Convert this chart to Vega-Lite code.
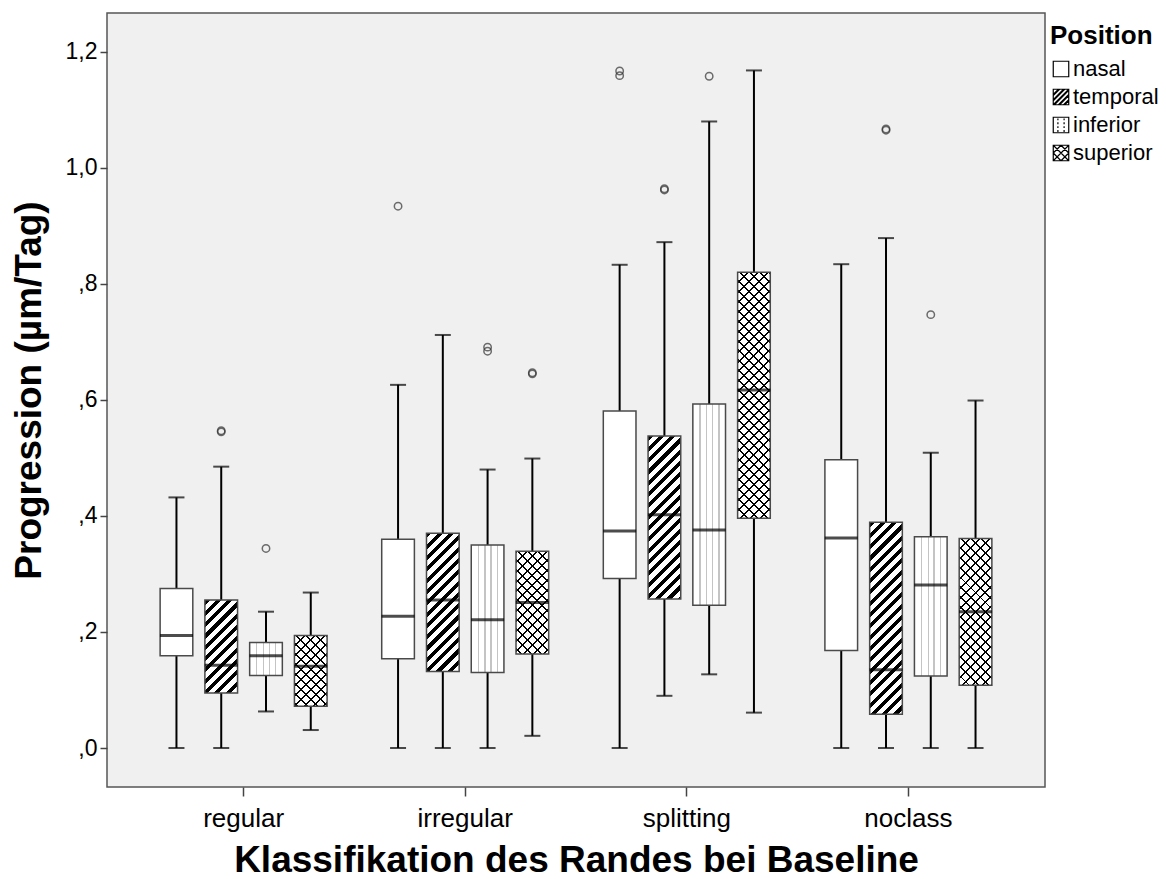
{
  "$schema": "https://vega.github.io/schema/vega-lite/v6.json",
  "autosize": "none",
  "padding": {"left": 107, "top": 13, "right": 121, "bottom": 92},
  "width": 938,
  "height": 774,
  "background": "white",
  "config": {
    "font": "Liberation Sans",
    "view": {"fill": "#f0f0f0", "stroke": "#555555", "strokeWidth": 1.5},
    "axisY": {
      "titleFontSize": 37, "titleFontWeight": "bold", "titleColor": "black",
      "labelFontSize": 23, "labelColor": "black", "labelPadding": 3,
      "tickSize": 7, "tickColor": "#444444", "tickWidth": 1.5,
      "domain": false, "grid": false
    },
    "axisX": {
      "titleFontSize": 37, "titleFontWeight": "bold", "titleColor": "black",
      "labelFontSize": 26, "labelColor": "black", "labelPadding": 9, "labelAngle": 0,
      "tickSize": 9, "tickColor": "#444444", "tickWidth": 1.5,
      "domain": false, "grid": false
    }
  },
  "params": [
    {"name": "stT", "value": [
      {"offset": 0, "color": "#000"}, {"offset": 0.01875, "color": "#000"}, {"offset": 0.01875, "color": "rgba(0,0,0,0)"}, {"offset": 0.041667, "color": "rgba(0,0,0,0)"},
      {"offset": 0.041667, "color": "#000"}, {"offset": 0.060417, "color": "#000"}, {"offset": 0.060417, "color": "rgba(0,0,0,0)"}, {"offset": 0.083333, "color": "rgba(0,0,0,0)"},
      {"offset": 0.083333, "color": "#000"}, {"offset": 0.102083, "color": "#000"}, {"offset": 0.102083, "color": "rgba(0,0,0,0)"}, {"offset": 0.125, "color": "rgba(0,0,0,0)"},
      {"offset": 0.125, "color": "#000"}, {"offset": 0.14375, "color": "#000"}, {"offset": 0.14375, "color": "rgba(0,0,0,0)"}, {"offset": 0.166667, "color": "rgba(0,0,0,0)"},
      {"offset": 0.166667, "color": "#000"}, {"offset": 0.185417, "color": "#000"}, {"offset": 0.185417, "color": "rgba(0,0,0,0)"}, {"offset": 0.208333, "color": "rgba(0,0,0,0)"},
      {"offset": 0.208333, "color": "#000"}, {"offset": 0.227083, "color": "#000"}, {"offset": 0.227083, "color": "rgba(0,0,0,0)"}, {"offset": 0.25, "color": "rgba(0,0,0,0)"},
      {"offset": 0.25, "color": "#000"}, {"offset": 0.26875, "color": "#000"}, {"offset": 0.26875, "color": "rgba(0,0,0,0)"}, {"offset": 0.291667, "color": "rgba(0,0,0,0)"},
      {"offset": 0.291667, "color": "#000"}, {"offset": 0.310417, "color": "#000"}, {"offset": 0.310417, "color": "rgba(0,0,0,0)"}, {"offset": 0.333333, "color": "rgba(0,0,0,0)"},
      {"offset": 0.333333, "color": "#000"}, {"offset": 0.352083, "color": "#000"}, {"offset": 0.352083, "color": "rgba(0,0,0,0)"}, {"offset": 0.375, "color": "rgba(0,0,0,0)"},
      {"offset": 0.375, "color": "#000"}, {"offset": 0.39375, "color": "#000"}, {"offset": 0.39375, "color": "rgba(0,0,0,0)"}, {"offset": 0.416667, "color": "rgba(0,0,0,0)"},
      {"offset": 0.416667, "color": "#000"}, {"offset": 0.435417, "color": "#000"}, {"offset": 0.435417, "color": "rgba(0,0,0,0)"}, {"offset": 0.458333, "color": "rgba(0,0,0,0)"},
      {"offset": 0.458333, "color": "#000"}, {"offset": 0.477083, "color": "#000"}, {"offset": 0.477083, "color": "rgba(0,0,0,0)"}, {"offset": 0.5, "color": "rgba(0,0,0,0)"},
      {"offset": 0.5, "color": "#000"}, {"offset": 0.51875, "color": "#000"}, {"offset": 0.51875, "color": "rgba(0,0,0,0)"}, {"offset": 0.541667, "color": "rgba(0,0,0,0)"},
      {"offset": 0.541667, "color": "#000"}, {"offset": 0.560417, "color": "#000"}, {"offset": 0.560417, "color": "rgba(0,0,0,0)"}, {"offset": 0.583333, "color": "rgba(0,0,0,0)"},
      {"offset": 0.583333, "color": "#000"}, {"offset": 0.602083, "color": "#000"}, {"offset": 0.602083, "color": "rgba(0,0,0,0)"}, {"offset": 0.625, "color": "rgba(0,0,0,0)"},
      {"offset": 0.625, "color": "#000"}, {"offset": 0.64375, "color": "#000"}, {"offset": 0.64375, "color": "rgba(0,0,0,0)"}, {"offset": 0.666667, "color": "rgba(0,0,0,0)"},
      {"offset": 0.666667, "color": "#000"}, {"offset": 0.685417, "color": "#000"}, {"offset": 0.685417, "color": "rgba(0,0,0,0)"}, {"offset": 0.708333, "color": "rgba(0,0,0,0)"},
      {"offset": 0.708333, "color": "#000"}, {"offset": 0.727083, "color": "#000"}, {"offset": 0.727083, "color": "rgba(0,0,0,0)"}, {"offset": 0.75, "color": "rgba(0,0,0,0)"},
      {"offset": 0.75, "color": "#000"}, {"offset": 0.76875, "color": "#000"}, {"offset": 0.76875, "color": "rgba(0,0,0,0)"}, {"offset": 0.791667, "color": "rgba(0,0,0,0)"},
      {"offset": 0.791667, "color": "#000"}, {"offset": 0.810417, "color": "#000"}, {"offset": 0.810417, "color": "rgba(0,0,0,0)"}, {"offset": 0.833333, "color": "rgba(0,0,0,0)"},
      {"offset": 0.833333, "color": "#000"}, {"offset": 0.852083, "color": "#000"}, {"offset": 0.852083, "color": "rgba(0,0,0,0)"}, {"offset": 0.875, "color": "rgba(0,0,0,0)"},
      {"offset": 0.875, "color": "#000"}, {"offset": 0.89375, "color": "#000"}, {"offset": 0.89375, "color": "rgba(0,0,0,0)"}, {"offset": 0.916667, "color": "rgba(0,0,0,0)"},
      {"offset": 0.916667, "color": "#000"}, {"offset": 0.935417, "color": "#000"}, {"offset": 0.935417, "color": "rgba(0,0,0,0)"}, {"offset": 0.958333, "color": "rgba(0,0,0,0)"},
      {"offset": 0.958333, "color": "#000"}, {"offset": 0.977083, "color": "#000"}, {"offset": 0.977083, "color": "rgba(0,0,0,0)"}, {"offset": 1, "color": "rgba(0,0,0,0)"}
    ]},
    {"name": "stB", "value": [
      {"offset": 0, "color": "#000"}, {"offset": 0.006667, "color": "#000"}, {"offset": 0.006667, "color": "rgba(0,0,0,0)"}, {"offset": 0.033333, "color": "rgba(0,0,0,0)"},
      {"offset": 0.033333, "color": "#000"}, {"offset": 0.04, "color": "#000"}, {"offset": 0.04, "color": "rgba(0,0,0,0)"}, {"offset": 0.066667, "color": "rgba(0,0,0,0)"},
      {"offset": 0.066667, "color": "#000"}, {"offset": 0.073333, "color": "#000"}, {"offset": 0.073333, "color": "rgba(0,0,0,0)"}, {"offset": 0.1, "color": "rgba(0,0,0,0)"},
      {"offset": 0.1, "color": "#000"}, {"offset": 0.106667, "color": "#000"}, {"offset": 0.106667, "color": "rgba(0,0,0,0)"}, {"offset": 0.133333, "color": "rgba(0,0,0,0)"},
      {"offset": 0.133333, "color": "#000"}, {"offset": 0.14, "color": "#000"}, {"offset": 0.14, "color": "rgba(0,0,0,0)"}, {"offset": 0.166667, "color": "rgba(0,0,0,0)"},
      {"offset": 0.166667, "color": "#000"}, {"offset": 0.173333, "color": "#000"}, {"offset": 0.173333, "color": "rgba(0,0,0,0)"}, {"offset": 0.2, "color": "rgba(0,0,0,0)"},
      {"offset": 0.2, "color": "#000"}, {"offset": 0.206667, "color": "#000"}, {"offset": 0.206667, "color": "rgba(0,0,0,0)"}, {"offset": 0.233333, "color": "rgba(0,0,0,0)"},
      {"offset": 0.233333, "color": "#000"}, {"offset": 0.24, "color": "#000"}, {"offset": 0.24, "color": "rgba(0,0,0,0)"}, {"offset": 0.266667, "color": "rgba(0,0,0,0)"},
      {"offset": 0.266667, "color": "#000"}, {"offset": 0.273333, "color": "#000"}, {"offset": 0.273333, "color": "rgba(0,0,0,0)"}, {"offset": 0.3, "color": "rgba(0,0,0,0)"},
      {"offset": 0.3, "color": "#000"}, {"offset": 0.306667, "color": "#000"}, {"offset": 0.306667, "color": "rgba(0,0,0,0)"}, {"offset": 0.333333, "color": "rgba(0,0,0,0)"},
      {"offset": 0.333333, "color": "#000"}, {"offset": 0.34, "color": "#000"}, {"offset": 0.34, "color": "rgba(0,0,0,0)"}, {"offset": 0.366667, "color": "rgba(0,0,0,0)"},
      {"offset": 0.366667, "color": "#000"}, {"offset": 0.373333, "color": "#000"}, {"offset": 0.373333, "color": "rgba(0,0,0,0)"}, {"offset": 0.4, "color": "rgba(0,0,0,0)"},
      {"offset": 0.4, "color": "#000"}, {"offset": 0.406667, "color": "#000"}, {"offset": 0.406667, "color": "rgba(0,0,0,0)"}, {"offset": 0.433333, "color": "rgba(0,0,0,0)"},
      {"offset": 0.433333, "color": "#000"}, {"offset": 0.44, "color": "#000"}, {"offset": 0.44, "color": "rgba(0,0,0,0)"}, {"offset": 0.466667, "color": "rgba(0,0,0,0)"},
      {"offset": 0.466667, "color": "#000"}, {"offset": 0.473333, "color": "#000"}, {"offset": 0.473333, "color": "rgba(0,0,0,0)"}, {"offset": 0.5, "color": "rgba(0,0,0,0)"},
      {"offset": 0.5, "color": "#000"}, {"offset": 0.506667, "color": "#000"}, {"offset": 0.506667, "color": "rgba(0,0,0,0)"}, {"offset": 0.533333, "color": "rgba(0,0,0,0)"},
      {"offset": 0.533333, "color": "#000"}, {"offset": 0.54, "color": "#000"}, {"offset": 0.54, "color": "rgba(0,0,0,0)"}, {"offset": 0.566667, "color": "rgba(0,0,0,0)"},
      {"offset": 0.566667, "color": "#000"}, {"offset": 0.573333, "color": "#000"}, {"offset": 0.573333, "color": "rgba(0,0,0,0)"}, {"offset": 0.6, "color": "rgba(0,0,0,0)"},
      {"offset": 0.6, "color": "#000"}, {"offset": 0.606667, "color": "#000"}, {"offset": 0.606667, "color": "rgba(0,0,0,0)"}, {"offset": 0.633333, "color": "rgba(0,0,0,0)"},
      {"offset": 0.633333, "color": "#000"}, {"offset": 0.64, "color": "#000"}, {"offset": 0.64, "color": "rgba(0,0,0,0)"}, {"offset": 0.666667, "color": "rgba(0,0,0,0)"},
      {"offset": 0.666667, "color": "#000"}, {"offset": 0.673333, "color": "#000"}, {"offset": 0.673333, "color": "rgba(0,0,0,0)"}, {"offset": 0.7, "color": "rgba(0,0,0,0)"},
      {"offset": 0.7, "color": "#000"}, {"offset": 0.706667, "color": "#000"}, {"offset": 0.706667, "color": "rgba(0,0,0,0)"}, {"offset": 0.733333, "color": "rgba(0,0,0,0)"},
      {"offset": 0.733333, "color": "#000"}, {"offset": 0.74, "color": "#000"}, {"offset": 0.74, "color": "rgba(0,0,0,0)"}, {"offset": 0.766667, "color": "rgba(0,0,0,0)"},
      {"offset": 0.766667, "color": "#000"}, {"offset": 0.773333, "color": "#000"}, {"offset": 0.773333, "color": "rgba(0,0,0,0)"}, {"offset": 0.8, "color": "rgba(0,0,0,0)"},
      {"offset": 0.8, "color": "#000"}, {"offset": 0.806667, "color": "#000"}, {"offset": 0.806667, "color": "rgba(0,0,0,0)"}, {"offset": 0.833333, "color": "rgba(0,0,0,0)"},
      {"offset": 0.833333, "color": "#000"}, {"offset": 0.84, "color": "#000"}, {"offset": 0.84, "color": "rgba(0,0,0,0)"}, {"offset": 0.866667, "color": "rgba(0,0,0,0)"},
      {"offset": 0.866667, "color": "#000"}, {"offset": 0.873333, "color": "#000"}, {"offset": 0.873333, "color": "rgba(0,0,0,0)"}, {"offset": 0.9, "color": "rgba(0,0,0,0)"},
      {"offset": 0.9, "color": "#000"}, {"offset": 0.906667, "color": "#000"}, {"offset": 0.906667, "color": "rgba(0,0,0,0)"}, {"offset": 0.933333, "color": "rgba(0,0,0,0)"},
      {"offset": 0.933333, "color": "#000"}, {"offset": 0.94, "color": "#000"}, {"offset": 0.94, "color": "rgba(0,0,0,0)"}, {"offset": 0.966667, "color": "rgba(0,0,0,0)"},
      {"offset": 0.966667, "color": "#000"}, {"offset": 0.973333, "color": "#000"}, {"offset": 0.973333, "color": "rgba(0,0,0,0)"}, {"offset": 1, "color": "rgba(0,0,0,0)"}
    ]}
  ],
  "datasets": {
    "boxes": [
      {"g": "regular", "p": "nasal", "lo": 0, "q1": 0.159, "med": 0.194, "q3": 0.275, "hi": 0.432},
      {"g": "regular", "p": "temporal", "lo": 0, "q1": 0.095, "med": 0.1425, "q3": 0.255, "hi": 0.485},
      {"g": "regular", "p": "inferior", "lo": 0.063, "q1": 0.125, "med": 0.159, "q3": 0.182, "hi": 0.235},
      {"g": "regular", "p": "superior", "lo": 0.031, "q1": 0.072, "med": 0.141, "q3": 0.194, "hi": 0.268},
      {"g": "irregular", "p": "nasal", "lo": 0, "q1": 0.154, "med": 0.227, "q3": 0.36, "hi": 0.626},
      {"g": "irregular", "p": "temporal", "lo": 0, "q1": 0.132, "med": 0.255, "q3": 0.37, "hi": 0.712},
      {"g": "irregular", "p": "inferior", "lo": 0, "q1": 0.13, "med": 0.221, "q3": 0.35, "hi": 0.48},
      {"g": "irregular", "p": "superior", "lo": 0.021, "q1": 0.162, "med": 0.251, "q3": 0.339, "hi": 0.499},
      {"g": "splitting", "p": "nasal", "lo": 0, "q1": 0.292, "med": 0.374, "q3": 0.581, "hi": 0.833},
      {"g": "splitting", "p": "temporal", "lo": 0.09, "q1": 0.257, "med": 0.402, "q3": 0.538, "hi": 0.872},
      {"g": "splitting", "p": "inferior", "lo": 0.127, "q1": 0.246, "med": 0.376, "q3": 0.593, "hi": 1.08},
      {"g": "splitting", "p": "superior", "lo": 0.061, "q1": 0.396, "med": 0.617, "q3": 0.82, "hi": 1.168},
      {"g": "noclass", "p": "nasal", "lo": 0, "q1": 0.168, "med": 0.362, "q3": 0.497, "hi": 0.834},
      {"g": "noclass", "p": "temporal", "lo": 0, "q1": 0.058, "med": 0.135, "q3": 0.389, "hi": 0.879},
      {"g": "noclass", "p": "inferior", "lo": 0, "q1": 0.124, "med": 0.281, "q3": 0.364, "hi": 0.509},
      {"g": "noclass", "p": "superior", "lo": 0, "q1": 0.108, "med": 0.235, "q3": 0.361, "hi": 0.599}
    ],
    "outliers": [
      {"g": "regular", "p": "temporal", "v": 0.547},
      {"g": "regular", "p": "temporal", "v": 0.545},
      {"g": "regular", "p": "inferior", "v": 0.344},
      {"g": "irregular", "p": "nasal", "v": 0.934},
      {"g": "irregular", "p": "inferior", "v": 0.691},
      {"g": "irregular", "p": "inferior", "v": 0.684},
      {"g": "irregular", "p": "superior", "v": 0.647},
      {"g": "irregular", "p": "superior", "v": 0.645},
      {"g": "splitting", "p": "nasal", "v": 1.167},
      {"g": "splitting", "p": "nasal", "v": 1.159},
      {"g": "splitting", "p": "temporal", "v": 0.964},
      {"g": "splitting", "p": "temporal", "v": 0.962},
      {"g": "splitting", "p": "inferior", "v": 1.158},
      {"g": "noclass", "p": "temporal", "v": 1.067},
      {"g": "noclass", "p": "temporal", "v": 1.065},
      {"g": "noclass", "p": "inferior", "v": 0.747}
    ]
  },
  "encoding": {
    "x": {
      "field": "g", "type": "nominal",
      "sort": ["regular", "irregular", "splitting", "noclass"],
      "scale": {"paddingInner": 0, "paddingOuter": 0.1165},
      "axis": {
        "title": "Klassifikation des Randes bei Baseline",
        "titleY": 84, "titleBaseline": "alphabetic"
      }
    },
    "xOffset": {
      "field": "p", "type": "nominal",
      "sort": ["nasal", "temporal", "inferior", "superior"],
      "scale": {"paddingInner": 0.27, "paddingOuter": 0.61}
    }
  },
  "layer": [
    {
      "data": {"name": "boxes"},
      "mark": {"type": "point", "filled": false, "stroke": "black", "strokeWidth": 1.2, "size": 240, "opacity": 1},
      "encoding": {
        "y": {
          "field": "med", "type": "quantitative",
          "title": "Progression (µm/Tag)",
          "scale": {"domain": [-0.0672, 1.267], "nice": false, "zero": false},
          "axis": {
            "title": "Progression (µm/Tag)",
            "titleX": -67, "titleY": 377, "titleBaseline": "alphabetic", "titleAngle": -90, "titleAlign": "center",
            "values": [0, 0.2, 0.4, 0.6, 0.8, 1.0, 1.2],
            "labelExpr": "(datum.value >= 1 ? '1' : '') + ',' + format((datum.value % 1) * 10, '.0f')"
          }
        },
        "shape": {
          "field": "p", "type": "nominal",
          "sort": ["nasal", "temporal", "inferior", "superior"],
          "scale": {
            "domain": ["nasal", "temporal", "inferior", "superior"],
            "range": [
              "M-1,-1L1,-1L1,1L-1,1Z",
              "M-1,-1L1,-1L1,1L-1,1Z M-1,-0.33L-0.33,-1 M-1,-0.18L-0.18,-1 M-1,0.33L0.33,-1 M-1,0.48L0.48,-1 M-1,1L1,-1 M-0.85,1L1,-0.85 M-0.33,1L1,-0.33 M-0.18,1L1,-0.18 M0.33,1L1,0.33 M0.48,1L1,0.48",
              "M-1,-1L1,-1L1,1L-1,1Z M-0.4,-0.85L-0.4,-0.6 M-0.4,-0.35L-0.4,-0.1 M-0.4,0.15L-0.4,0.4 M-0.4,0.65L-0.4,0.9 M0.4,-0.85L0.4,-0.6 M0.4,-0.35L0.4,-0.1 M0.4,0.15L0.4,0.4 M0.4,0.65L0.4,0.9",
              "M-1,-1L1,-1L1,1L-1,1Z M-1,0L0,-1 M-1,1L1,-1 M0,1L1,0 M-1,0L0,1 M-1,-1L1,1 M0,-1L1,0"
            ]
          },
          "legend": {
            "title": "Position",
            "titleFontSize": 26, "titleFontWeight": "bold", "titleColor": "black", "titlePadding": 9,
            "labelFontSize": 22, "labelColor": "black", "labelOffset": 1,
            "symbolSize": 240, "symbolStrokeColor": "black", "symbolStrokeWidth": 1.2, "symbolOpacity": 1,
            "rowPadding": 6, "offset": -5, "padding": 10
          }
        }
      }
    },
    {
      "data": {"name": "boxes"},
      "mark": {"type": "rule", "color": "black", "strokeWidth": 2},
      "encoding": {
        "y": {"field": "lo", "type": "quantitative", "title": "Progression (µm/Tag)"},
        "y2": {"field": "hi"}
      }
    },
    {
      "data": {"name": "boxes"},
      "mark": {"type": "tick", "color": "black", "size": 16, "thickness": 2},
      "encoding": {"y": {"field": "lo", "type": "quantitative", "title": "Progression (µm/Tag)"}}
    },
    {
      "data": {"name": "boxes"},
      "mark": {"type": "tick", "color": "black", "size": 16, "thickness": 2},
      "encoding": {"y": {"field": "hi", "type": "quantitative", "title": "Progression (µm/Tag)"}}
    },
    {
      "data": {"name": "boxes"},
      "mark": {"type": "bar", "fill": "white", "strokeWidth": 0},
      "encoding": {"y": {"field": "q1", "type": "quantitative", "title": "Progression (µm/Tag)"}, "y2": {"field": "q3"}}
    },
    {
      "data": {"name": "boxes"},
      "transform": [{"filter": "datum.p === 'temporal'"}],
      "mark": {
        "type": "bar", "strokeWidth": 0,
        "fill": {"expr": "{'gradient': 'linear', 'x1': 0, 'y1': 0, 'x2': 271.5 * bandwidth('xOffset') / (pow(bandwidth('xOffset'), 2) + pow(scale('y', datum.q1) - scale('y', datum.q3), 2)), 'y2': 271.5 * (scale('y', datum.q1) - scale('y', datum.q3)) / (pow(bandwidth('xOffset'), 2) + pow(scale('y', datum.q1) - scale('y', datum.q3), 2)), 'stops': stT}"}
      },
      "encoding": {"y": {"field": "q1", "type": "quantitative", "title": "Progression (µm/Tag)"}, "y2": {"field": "q3"}}
    },
    {
      "data": {"name": "boxes"},
      "transform": [{"filter": "datum.p === 'inferior'"}],
      "mark": {
        "type": "bar", "strokeWidth": 0,
        "fill": {"gradient": "linear", "x1": 0, "y1": 0, "x2": 1, "y2": 0, "stops": [
          {"offset": 0, "color": "white"}, {"offset": 0.2, "color": "white"}, {"offset": 0.2, "color": "#c4c4c4"}, {"offset": 0.24, "color": "#c4c4c4"}, {"offset": 0.24, "color": "white"},
          {"offset": 0.4, "color": "white"}, {"offset": 0.4, "color": "#c4c4c4"}, {"offset": 0.44, "color": "#c4c4c4"}, {"offset": 0.44, "color": "white"},
          {"offset": 0.58, "color": "white"}, {"offset": 0.58, "color": "#c4c4c4"}, {"offset": 0.62, "color": "#c4c4c4"}, {"offset": 0.62, "color": "white"},
          {"offset": 0.78, "color": "white"}, {"offset": 0.78, "color": "#c4c4c4"}, {"offset": 0.82, "color": "#c4c4c4"}, {"offset": 0.82, "color": "white"},
          {"offset": 1, "color": "white"}
        ]}
      },
      "encoding": {"y": {"field": "q1", "type": "quantitative", "title": "Progression (µm/Tag)"}, "y2": {"field": "q3"}}
    },
    {
      "data": {"name": "boxes"},
      "transform": [{"filter": "datum.p === 'superior'"}],
      "mark": {
        "type": "bar", "strokeWidth": 0,
        "fill": {"expr": "{'gradient': 'linear', 'x1': 0, 'y1': 0, 'x2': 297 * bandwidth('xOffset') / (pow(bandwidth('xOffset'), 2) + pow(scale('y', datum.q1) - scale('y', datum.q3), 2)), 'y2': 297 * (scale('y', datum.q1) - scale('y', datum.q3)) / (pow(bandwidth('xOffset'), 2) + pow(scale('y', datum.q1) - scale('y', datum.q3), 2)), 'stops': stB}"}
      },
      "encoding": {"y": {"field": "q1", "type": "quantitative", "title": "Progression (µm/Tag)"}, "y2": {"field": "q3"}}
    },
    {
      "data": {"name": "boxes"},
      "transform": [{"filter": "datum.p === 'superior'"}],
      "mark": {
        "type": "bar", "strokeWidth": 0,
        "fill": {"expr": "{'gradient': 'linear', 'x1': 1, 'y1': 0, 'x2': 1 - 297 * bandwidth('xOffset') / (pow(bandwidth('xOffset'), 2) + pow(scale('y', datum.q1) - scale('y', datum.q3), 2)), 'y2': 297 * (scale('y', datum.q1) - scale('y', datum.q3)) / (pow(bandwidth('xOffset'), 2) + pow(scale('y', datum.q1) - scale('y', datum.q3), 2)), 'stops': stB}"}
      },
      "encoding": {"y": {"field": "q1", "type": "quantitative", "title": "Progression (µm/Tag)"}, "y2": {"field": "q3"}}
    },
    {
      "data": {"name": "boxes"},
      "mark": {"type": "bar", "fill": "white", "fillOpacity": 0, "stroke": "#4a4a4a", "strokeWidth": 1.5},
      "encoding": {"y": {"field": "q1", "type": "quantitative", "title": "Progression (µm/Tag)"}, "y2": {"field": "q3"}}
    },
    {
      "data": {"name": "boxes"},
      "mark": {"type": "tick", "color": "black", "size": 33, "thickness": 3},
      "encoding": {"y": {"field": "med", "type": "quantitative", "title": "Progression (µm/Tag)"}}
    },
    {
      "data": {"name": "outliers"},
      "mark": {"type": "point", "shape": "circle", "filled": false, "stroke": "#333333", "strokeWidth": 1.5, "size": 55},
      "encoding": {"y": {"field": "v", "type": "quantitative", "title": "Progression (µm/Tag)"}}
    }
  ]
}
